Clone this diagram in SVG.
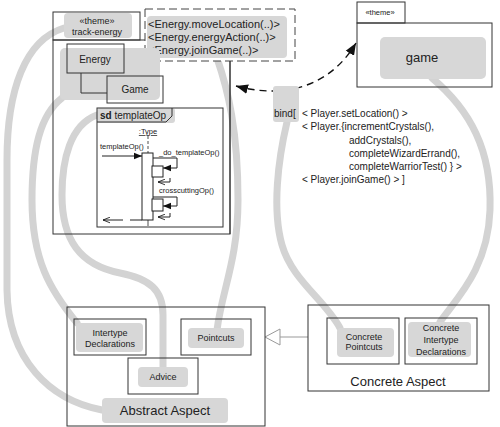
<svg xmlns="http://www.w3.org/2000/svg" width="500" height="427" viewBox="0 0 500 427">
<style>
text{font-family:"Liberation Sans",Arial,sans-serif;fill:#222}
.box{fill:none;stroke:#333;stroke-width:1}
.hl{fill:#d7d7d7}
.curve{fill:none;stroke:#d3d3d3;stroke-width:7;stroke-linecap:round}
.thin{fill:none;stroke:#222;stroke-width:1}
.s7{font-size:7.5px}
.s9{font-size:9px}
.s10{font-size:10px}
.s11{font-size:11px}
.s13{font-size:13px}
.mid{text-anchor:middle}
</style>
<defs>
<marker id="fa" viewBox="0 0 10 10" refX="10" refY="5" markerWidth="8" markerHeight="8" markerUnits="userSpaceOnUse" orient="auto-start-reverse"><path d="M0,1 L10,5 L0,9 z" fill="#111"/></marker>
<marker id="big" viewBox="0 0 10 10" refX="10" refY="5" markerWidth="12" markerHeight="12" markerUnits="userSpaceOnUse" orient="auto-start-reverse"><path d="M0,1 L10,5 L0,9 z" fill="#111"/></marker>
<marker id="oa" viewBox="0 0 10 10" refX="10" refY="5" markerWidth="7" markerHeight="7" markerUnits="userSpaceOnUse" orient="auto"><path d="M0,1 L10,5 L0,9" fill="none" stroke="#111" stroke-width="1.2"/></marker>
</defs>

<g id="connectors">
<path class="curve" d="M64,28 C25,40 7,90 7,160 L7,290 C8,360 50,400 102,410"/>
<path class="curve" d="M62,98 C40,115 32,150 32,200 C32,260 50,290 77,323"/>
<path class="curve" d="M97,115 C70,125 62,160 62,195 C62,240 80,265 120,273 C150,279 163,290 163,315 L163,367"/>
<path class="curve" d="M217,58 C228,90 238,130 238,200 C238,260 222,290 217,330"/>
<path class="curve" d="M287,122 C278,160 272,210 282,245 C292,280 325,300 340,328"/>
<path class="curve" d="M432,78 C470,110 492,150 490,210 C488,270 455,300 440,322"/>
<path d="M236,86 C272,96 325,95 356,43" fill="none" stroke="#111" stroke-width="1.4" stroke-dasharray="7,5" marker-start="url(#big)" marker-end="url(#big)"/>
<line x1="280" y1="337" x2="308" y2="337" stroke="#999" stroke-width="1"/>
<polygon points="265,337 280,329 280,345" fill="#fff" stroke="#999" stroke-width="1"/>
</g>

<g id="track-energy">
<rect class="box" x="53" y="12" width="87" height="28"/>
<rect class="box" x="53" y="40" width="177" height="194"/>
<rect class="hl" x="64" y="13" width="68" height="25" rx="4"/>
<text class="s9 mid" x="97" y="24">«theme»</text>
<text class="s9 mid" x="97" y="35">track-energy</text>
</g>

<g id="pointcut-params">
<rect x="145" y="9" width="150" height="52" fill="#fff" stroke="#444" stroke-width="1" stroke-dasharray="8,4"/>
<rect class="hl" x="147" y="16" width="140" height="42" rx="4"/>
<text class="s11" x="148" y="28">&lt;Energy.moveLocation(..)&gt;</text>
<text class="s11" x="148" y="41">&lt;Energy.energyAction(..)&gt;</text>
<text class="s11" x="148" y="54">&lt;Energy.joinGame(..)&gt;</text>
<line class="box" x1="230" y1="61" x2="230" y2="234"/>
</g>

<g id="energy-game">
<rect class="hl" x="60" y="48" width="100" height="52" rx="5"/>
<rect class="box" x="67" y="44" width="57" height="29"/>
<text class="s10 mid" x="95" y="63">Energy</text>
<polyline class="box" points="81,73 81,93 107,93"/>
<rect class="box" x="107" y="76" width="56" height="27"/>
<text class="s10 mid" x="135" y="93">Game</text>
</g>

<g id="sd-templateOp">
<rect class="hl" x="97" y="108" width="78" height="15" rx="3"/>
<rect class="box" x="97" y="108" width="126" height="119"/>
<path class="box" d="M97,122 L166,122 L172,116 L172,108"/>
<text class="s10" x="100" y="119"><tspan font-weight="bold">sd</tspan> templateOp</text>
<text class="s7 mid" x="148" y="134" text-decoration="underline">:Type</text>
<line x1="148" y1="136" x2="148" y2="153" stroke="#222" stroke-width="0.8" stroke-dasharray="3,2"/>
<line x1="148" y1="220" x2="148" y2="226" stroke="#222" stroke-width="0.8"/>
<rect x="142" y="153" width="11" height="67" fill="#fff" stroke="#222" stroke-width="1"/>
<text class="s7" x="100" y="149">templateOp()</text>
<line class="thin" x1="102" y1="156" x2="142" y2="156" marker-end="url(#fa)"/>
<text class="s7" x="159" y="155">_do_templateOp()</text>
<polyline class="thin" points="153,158 177,158 177,168 163,168" marker-end="url(#fa)"/>
<rect x="152" y="166" width="11" height="11" fill="#fff" stroke="#222" stroke-width="1"/>
<polyline class="thin" stroke-width="0.8" points="170,178 170,182 158,182" marker-end="url(#oa)"/>
<text class="s7" x="159" y="193">crosscuttingOp()</text>
<polyline class="thin" points="153,197 177,197 177,206 163,206" marker-end="url(#fa)"/>
<rect x="152" y="199" width="11" height="12" fill="#fff" stroke="#222" stroke-width="1"/>
<polyline class="thin" stroke-width="0.8" points="170,213 170,217 158,217" marker-end="url(#oa)"/>
<line class="thin" x1="130" y1="220" x2="142" y2="220"/>
<line class="thin" x1="123" y1="220" x2="103" y2="220" marker-end="url(#oa)"/>
</g>

<g id="theme-game">
<rect class="box" x="357" y="2" width="48" height="21"/>
<text class="s7 mid" x="380" y="15">«theme»</text>
<rect class="box" x="357" y="23" width="135" height="64"/>
<rect class="hl" x="380" y="37" width="106" height="42" rx="5"/>
<text class="s13 mid" x="422" y="62">game</text>
</g>

<g id="bind">
<rect class="hl" x="273" y="86" width="26" height="36" rx="3"/>
<text class="s10" x="274" y="117">bind[</text>
<text class="s10" x="302" y="117">&lt; Player.setLocation() &gt;</text>
<text class="s10" x="302" y="130">&lt; Player.{incrementCrystals(),</text>
<text class="s10" x="349" y="144">addCrystals(),</text>
<text class="s10" x="349" y="157">completeWizardErrand(),</text>
<text class="s10" x="349" y="170">completeWarriorTest() } &gt;</text>
<text class="s10" x="302" y="183">&lt; Player.joinGame() &gt; ]</text>
</g>

<g id="abstract-aspect">
<rect class="box" x="67" y="307" width="198" height="119"/>
<rect class="hl" x="102" y="398" width="126" height="25" rx="4"/>
<text class="s13 mid" x="165" y="415">Abstract Aspect</text>
</g>
<g id="intertype-declarations">
<rect class="box" x="74" y="319" width="72" height="36"/>
<rect class="hl" x="76" y="323" width="67" height="29" rx="4"/>
<text class="s9 mid" x="110" y="336">Intertype</text>
<text class="s9 mid" x="110" y="347">Declarations</text>
</g>
<g id="pointcuts">
<rect class="box" x="181" y="319" width="70" height="36"/>
<rect class="hl" x="188" y="328" width="56" height="20" rx="4"/>
<text class="s9 mid" x="216" y="341">Pointcuts</text>
</g>
<g id="advice">
<rect class="box" x="128" y="358" width="70" height="36"/>
<rect class="hl" x="138" y="367" width="50" height="20" rx="4"/>
<text class="s9 mid" x="163" y="380">Advice</text>
</g>

<g id="concrete-aspect">
<rect class="box" x="308" y="305" width="181" height="86"/>
<text class="s13 mid" x="398" y="386">Concrete Aspect</text>
</g>
<g id="concrete-pointcuts">
<rect class="box" x="327" y="318" width="72" height="46"/>
<rect class="hl" x="337" y="328" width="57" height="29" rx="4"/>
<text class="s9 mid" x="364" y="340">Concrete</text>
<text class="s9 mid" x="364" y="350">Pointcuts</text>
</g>
<g id="concrete-intertype">
<rect class="box" x="405" y="318" width="72" height="46"/>
<rect class="hl" x="408" y="322" width="63" height="35" rx="4"/>
<text class="s9 mid" x="441" y="331">Concrete</text>
<text class="s9 mid" x="441" y="343">Intertype</text>
<text class="s9 mid" x="441" y="355">Declarations</text>
</g>
</svg>
